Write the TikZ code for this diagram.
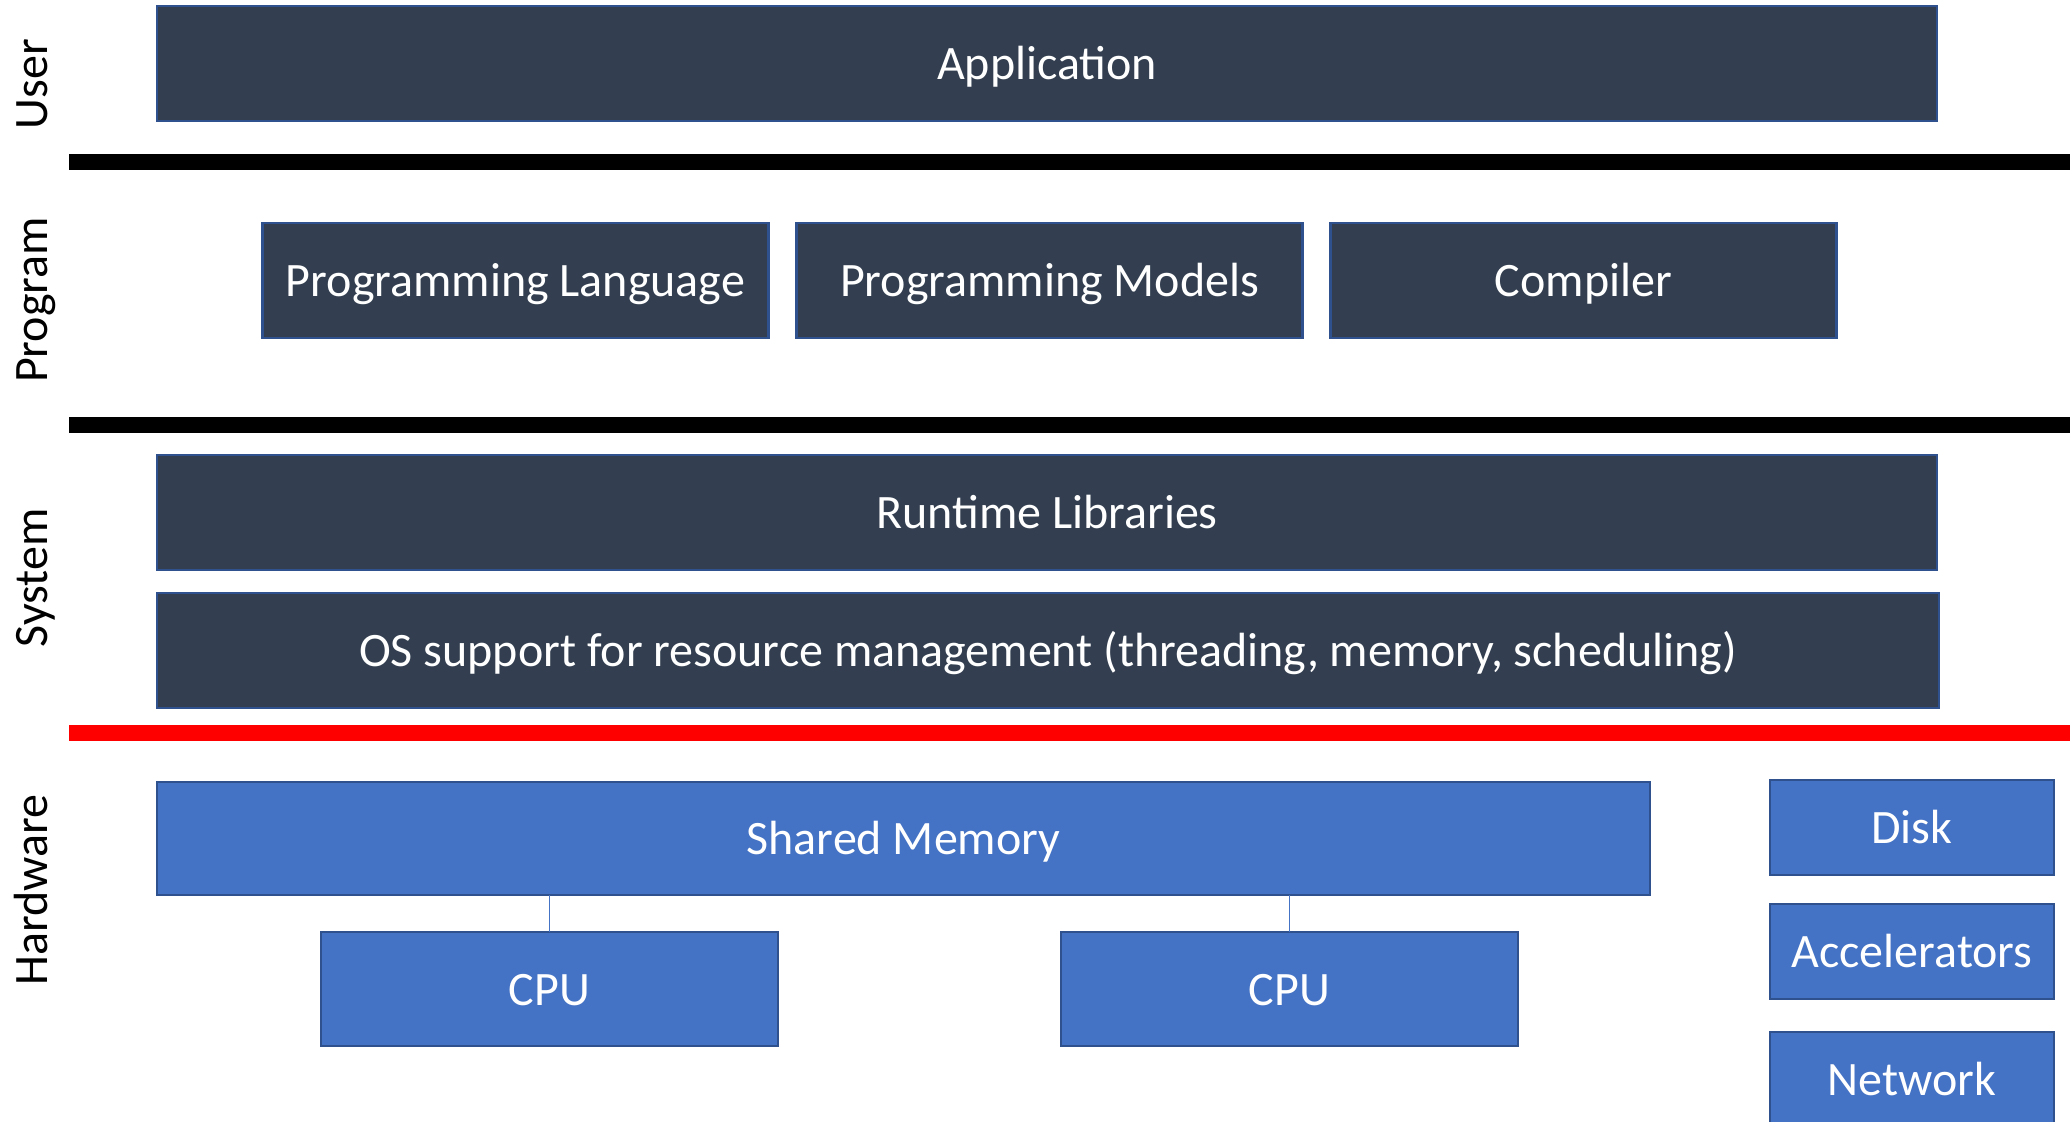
\documentclass[tikz,border=0pt]{standalone}
\usepackage{fontspec}
\setmainfont{Carlito}
\definecolor{darkbox}{HTML}{333F50}
\definecolor{boxline}{HTML}{2F528F}
\definecolor{bluebox}{HTML}{4472C4}
\definecolor{redline}{HTML}{FF0000}
\begin{document}
\begin{tikzpicture}[x=0.5pt,y=-0.5pt,
  base/.style={rectangle, inner sep=0pt, outer sep=0pt, line width=1.2pt, draw=boxline,
    text=white, font=\fontsize{24pt}{28pt}\selectfont, text height=22.8pt, text depth=6.4pt},
  darkbox/.style={base, fill=darkbox},
  hwbox/.style={base, fill=bluebox},
  layerlabel/.style={rotate=90, font=\fontsize{24pt}{28pt}\selectfont, text=black, inner sep=0pt,
    text height=22.8pt, text depth=6.4pt},
  sepline/.style={line width=8pt},
  link/.style={draw=bluebox, line width=0.6pt}]
\useasboundingbox (0,0) rectangle (2070,1121);
\clip (0,0) rectangle (2070,1121);
\fill[white] (0,0) rectangle (2070,1121);

% layer labels
\node[layerlabel] (luser) at (31,84) {User};
\node[layerlabel] (lprog) at (31,300) {Program};
\node[layerlabel] (lsys) at (31,578) {System};
\node[layerlabel] (lhw) at (31,890) {Hardware};

% separator lines
\coordinate (s1a) at (69,162); \coordinate (s1b) at (2070,162);
\coordinate (s2a) at (69,424.5); \coordinate (s2b) at (2070,424.5);
\coordinate (s3a) at (69,733); \coordinate (s3b) at (2070,733);
\draw[sepline, black] (s1a) -- (s1b);
\draw[sepline, black] (s2a) -- (s2b);
\draw[sepline, redline] (s3a) -- (s3b);

% user
\node[darkbox, minimum width=890pt, minimum height=57.5pt] (app) at (1047,63.5) {Application};

% program
\node[darkbox, minimum width=253pt, minimum height=57.5pt] (plang) at (515.5,280.5) {Programming Language};
\node[darkbox, minimum width=253pt, minimum height=57.5pt] (pmod) at (1049.5,280.5) {Programming Models};
\node[darkbox, minimum width=253pt, minimum height=57.5pt] (comp) at (1583.5,280.5) {Compiler};

% system
\node[darkbox, minimum width=890pt, minimum height=57.5pt] (rt) at (1047,512.5) {Runtime Libraries};
\node[darkbox, minimum width=891pt, minimum height=57.5pt] (os) at (1048,650.5) {OS support for resource management (threading, memory, scheduling)};

% hardware
\node[hwbox, minimum width=746.5pt, minimum height=56.5pt] (sm) at (903.5,838.5) {Shared Memory};
\node[hwbox, minimum width=228.5pt, minimum height=57pt] (cpu1) at (549.5,989) {CPU};
\node[hwbox, minimum width=228.5pt, minimum height=57pt] (cpu2) at (1289.5,989) {CPU};
\node[hwbox, minimum width=142pt, minimum height=47.5pt] (disk) at (1912,827.5) {Disk};
\node[hwbox, minimum width=142pt, minimum height=47.5pt] (acc) at (1912,951.5) {Accelerators};
\node[hwbox, minimum width=142pt, minimum height=47.5pt] (net) at (1912,1079.5) {Network};

\draw[link] (cpu1.north) -- (cpu1.north |- sm.south);
\draw[link] (cpu2.north) -- (cpu2.north |- sm.south);
\end{tikzpicture}
\end{document}
